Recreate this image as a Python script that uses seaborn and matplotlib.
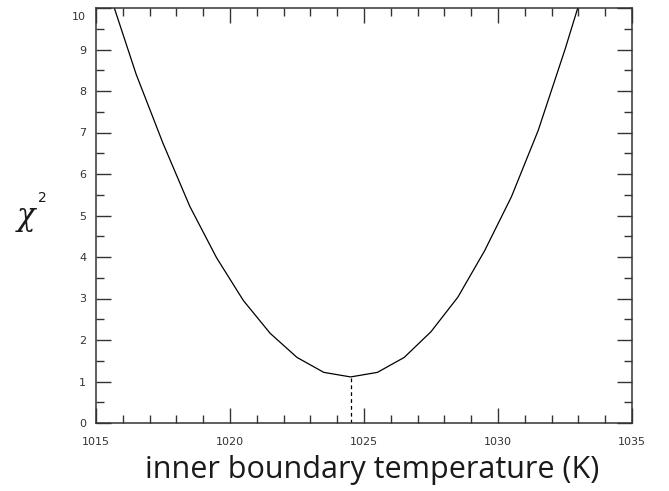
import matplotlib
matplotlib.use("Agg")
import matplotlib.pyplot as plt
import matplotlib.transforms as mtransforms
from matplotlib.ticker import MultipleLocator
import seaborn as sns
import pandas as pd

# chi-square values versus inner boundary temperature
temperature = [1015.5, 1016.5, 1017.5, 1018.5, 1019.5, 1020.5, 1021.5, 1022.5,
               1023.5, 1024.5, 1025.5, 1026.5, 1027.5, 1028.5, 1029.5, 1030.5,
               1031.5, 1032.5, 1033.5]
chi2 = [10.36, 8.4, 6.74, 5.22, 3.98, 2.95, 2.16, 1.58,
        1.22, 1.11, 1.22, 1.58, 2.2, 3.03, 4.15, 5.45,
        7.05, 9.0, 11.1]

# best-fit temperature (minimum of chi-square)
best_temperature = 1024.5
best_chi2 = 1.11

x_ticks = [1015, 1020, 1025, 1030, 1035]
y_ticks = [0, 1, 2, 3, 4, 5, 6, 7, 8, 9, 10]

df = pd.DataFrame({"T": temperature, "chi2": chi2})

sns.set_style("ticks")
plt.rcParams["font.family"] = ["DejaVu Sans"]

fig = plt.figure(figsize=(6.69, 4.91), dpi=100)
ax = fig.add_axes([96 / 669, 1 - 423 / 491, (632 - 96) / 669, (423 - 8) / 491])

sns.lineplot(data=df, x="T", y="chi2", ax=ax, color="black", linewidth=0.9,
             sort=False)
ax.plot([best_temperature, best_temperature], [0, best_chi2],
        color="black", linestyle=(0, (3, 2.5)), linewidth=0.9)

ax.set_xlim(1015, 1035)
ax.set_ylim(0, 10)
ax.set_xticks(x_ticks)
ax.set_yticks(y_ticks)
ax.xaxis.set_minor_locator(MultipleLocator(1))
ax.yaxis.set_minor_locator(MultipleLocator(0.5))

for s in ax.spines.values():
    s.set_visible(True)
    s.set_color("#333333")
    s.set_linewidth(1.1)

ax.tick_params(which="both", direction="in", top=True, right=True,
               color="#333333", width=1.0)
ax.tick_params(which="major", length=11, pad=7, labelsize=8,
               labelcolor="#333333")
ax.tick_params(which="minor", length=6)
ax.tick_params(axis="x", which="major", pad=10)

# nudge the top y label down so it sits inside the frame
top_label = ax.get_yticklabels()[-1]
top_label.set_transform(top_label.get_transform() +
                        mtransforms.ScaledTranslation(0, -0.08, fig.dpi_scale_trans))

ax.set_xlabel("inner boundary temperature (K)", fontsize=22,
              family=["Open Sans", "DejaVu Sans"], weight=500,
              color="#1a1a1a")
ax.xaxis.set_label_coords((372 - 96) / (632 - 96), -(470 - 423) / (423 - 8))
ax.xaxis.label.set_va("center")
ax.set_ylabel("")

fig.text(26 / 669, 1 - 217 / 491, "\u03c7", fontsize=22, color="#1a1a1a",
         family=["DejaVu Serif"], style="italic", ha="center", va="center")
fig.text(42 / 669, 1 - 198 / 491, "2", fontsize=10, color="#1a1a1a",
         ha="center", va="center")

fig.savefig("out.png", dpi=100, facecolor="white")
